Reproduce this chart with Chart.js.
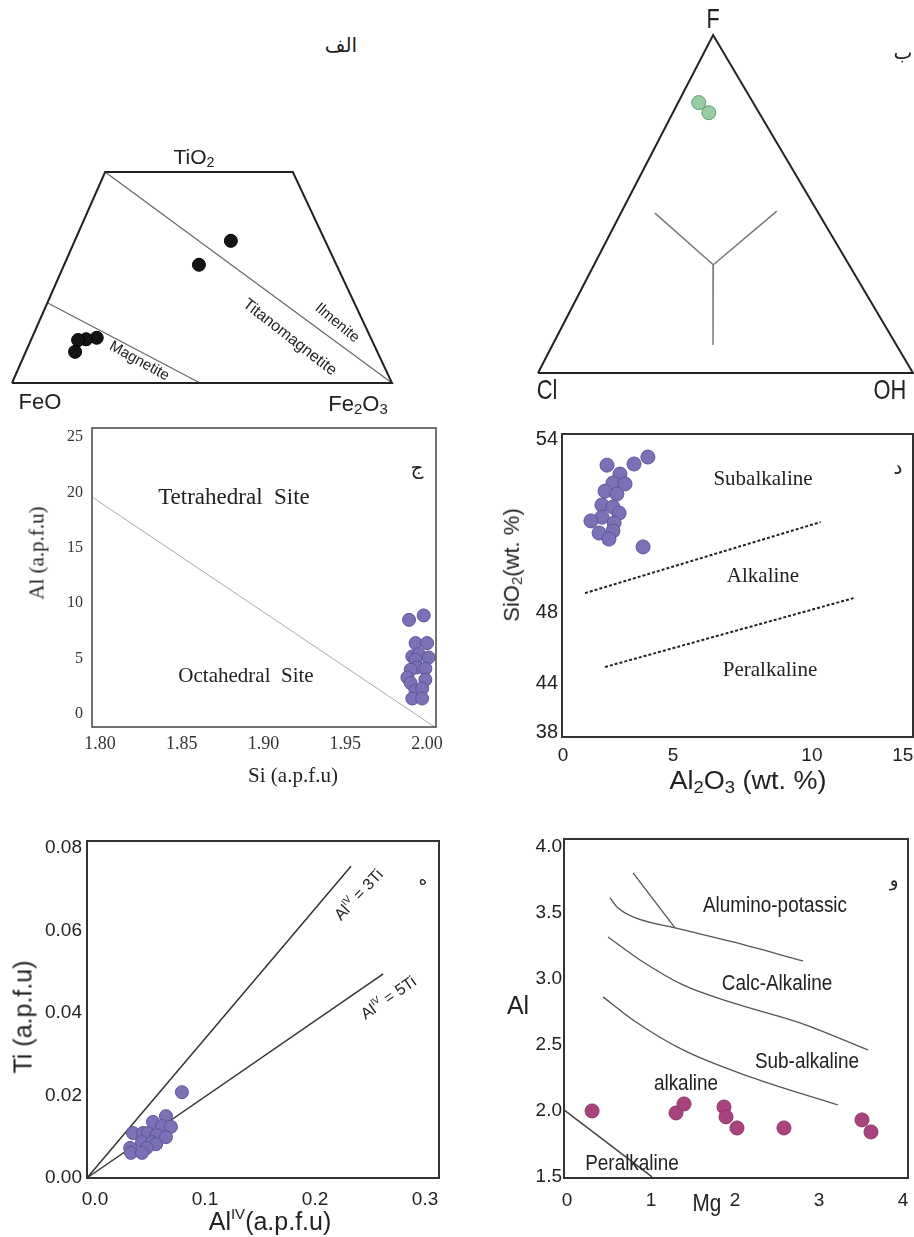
<!DOCTYPE html>
<html>
<head>
<meta charset="utf-8">
<script src="https://cdn.jsdelivr.net/npm/chart.js@4/dist/chart.umd.min.js"></script>
<style>
  body { margin: 0; background: #fff; }
  #page { position: relative; width: 914px; height: 1237px; overflow: hidden; background: #fff; }
  #page canvas { position: absolute; }
  .note { position: absolute; white-space: pre; line-height: 1; color: #222; z-index: 5; }
  .note sub { font-size: 0.68em; vertical-align: -0.22em; }
  .note sup { font-size: 0.6em; vertical-align: 0.75em; }
</style>
</head>
<body>
<div id="page">
  <canvas id="oxide"></canvas>
  <canvas id="halogen"></canvas>
  <canvas id="site"></canvas>
  <canvas id="silica"></canvas>
  <canvas id="titan"></canvas>
  <canvas id="mgal"></canvas>
</div>
<script>
// ---- الف : FeO - TiO2 - Fe2O3 (diagram units, base FeO->Fe2O3 = 0..100)
const oxideOutline = [{x:0,y:0},{x:24.5,y:55.5},{x:73.9,y:55.5},{x:100,y:0},{x:0,y:0}];
const ilmeniteJoin = [{x:24.5,y:55.5},{x:100,y:0}];
const magnetiteJoin = [{x:9.3,y:21.1},{x:49.5,y:0}];
const oxideX = [57.6, 49.2, 22.3, 19.5, 17.4, 16.6];
const oxideY = [37.4, 31.1, 11.9, 11.5, 11.3, 8.2];

// ---- ب : F - Cl - OH (mole fractions)
const halogenF  = [0.80, 0.77];
const halogenCl = [0.145, 0.134];
const halogenOH = [0.055, 0.096];
const triCorners = [{F:0,Cl:1,OH:0},{F:0,Cl:0,OH:1},{F:1,Cl:0,OH:0},{F:0,Cl:1,OH:0}];
const armUpper = [{F:0.473,Cl:0.436,OH:0.091},{F:0.32,Cl:0.362,OH:0.318},{F:0.479,Cl:0.108,OH:0.413}];
const armLower = [{F:0.32,Cl:0.362,OH:0.318},{F:0.083,Cl:0.489,OH:0.428}];

// ---- ج : Si vs Al (a.p.f.u)
const siApfu = [1.989,1.998,1.993,2.000,1.991,1.995,2.001,1.993,1.994,1.990,1.999,1.988,1.990,1.999,1.993,1.997,1.991,1.997];
const alApfu = [8.5,8.9,6.4,6.4,5.2,5.4,5.1,4.9,4.2,4.0,4.1,3.3,2.8,3.1,2.1,2.3,1.4,1.4];
const siteBoundary = [{x:1.795,y:19.6},{x:2.005,y:-1.2}];
const siteTicksX = [1.80, 1.85, 1.90, 1.95, 2.00];
const siteTicksY = [0, 5, 10, 15, 20, 25];

// ---- د : Al2O3 vs SiO2 (wt. %)
const al2o3 = [3.86,2.00,3.23,2.59,2.27,2.82,1.91,2.45,1.77,2.27,2.55,1.77,1.27,2.32,2.27,1.64,2.09,3.64];
const sio2  = [53.38,53.10,53.14,52.79,52.48,52.45,52.20,52.10,51.72,51.65,51.44,51.30,51.17,51.10,50.82,50.75,50.54,50.27];
const subalkBoundary = [{x:1.0,y:48.67},{x:10.48,y:51.13}];
const peralkBoundary = [{x:1.91,y:44.95},{x:12.31,y:48.5}];
const silicaTicksX = [0, 5, 10, 15];
const silicaTicksY = [54, 48, 44, 38];

// ---- ه : AlIV vs Ti
const alIV = [0.079,0.0645,0.0527,0.061,0.069,0.0345,0.0436,0.048,0.056,0.0645,0.0427,0.0518,0.0555,0.032,0.047,0.0327,0.0427];
const tiH  = [0.0208,0.0150,0.0136,0.0126,0.0124,0.0109,0.0109,0.0109,0.0104,0.0099,0.0087,0.0087,0.0082,0.0073,0.0073,0.0061,0.0061];
const line3Ti = [{x:-0.0073,y:0},{x:0.2327,y:0.0756}];
const line5Ti = [{x:-0.0073,y:0},{x:0.262,y:0.0495}];
const titanTicksX = [0, 0.1, 0.2, 0.3];
const titanTicksY = [0, 0.02, 0.04, 0.06, 0.08];

// ---- و : Mg vs Al
const mgV = [0.298,1.298,1.393,1.869,1.893,2.024,2.583,3.512,3.619];
const alV = [2.000,1.985,2.053,2.030,1.955,1.871,1.871,1.932,1.841];
const aluminoTick = [{x:0.786,y:3.803},{x:1.286,y:3.386}];
const aluminoCurve = [{x:0.512,y:3.614},{x:0.595,y:3.545},{x:0.786,y:3.470},{x:1.286,y:3.386},{x:1.976,y:3.280},{x:2.81,y:3.136}];
const calcCurve = [{x:0.488,y:3.318},{x:0.869,y:3.144},{x:1.381,y:2.955},{x:1.976,y:2.818},{x:2.774,y:2.667},{x:3.583,y:2.462}];
const subCurve = [{x:0.429,y:2.864},{x:0.786,y:2.689},{x:1.381,y:2.462},{x:2.179,y:2.258},{x:3.226,y:2.045}];
const peralkLine = [{x:-0.036,y:2.008},{x:1.012,y:1.5}];
const mgTicksX = [0, 1, 2, 3, 4];
const mgTicksY = [1.5, 2.0, 2.5, 3.0, 3.5, 4.0];

const SANS = '"Liberation Sans", Arial, sans-serif';
const SERIF = '"Liberation Serif", "Times New Roman", serif';
const ARAB = '"DejaVu Sans", sans-serif';

// scale whose value->pixel mapping is piecewise linear (the SiO2 / Al2O3 axes are not evenly spaced)
class PiecewiseScale extends Chart.LinearScale {
  getPixelForValue(value) {
    const b = this.options.breaks;
    let i = 1;
    while (i < b.length - 1 && value > b[i][0]) i++;
    const v0 = b[i-1][0], d0 = b[i-1][1], v1 = b[i][0], d1 = b[i][1];
    return this.getPixelForDecimal(d0 + (value - v0) / (v1 - v0) * (d1 - d0));
  }
  getValueForPixel(pixel) {
    const b = this.options.breaks, dec = this.getDecimalForPixel(pixel);
    let i = 1;
    while (i < b.length - 1 && dec > b[i][1]) i++;
    const v0 = b[i-1][0], d0 = b[i-1][1], v1 = b[i][0], d1 = b[i][1];
    return v0 + (dec - d0) / (d1 - d0) * (v1 - v0);
  }
}
PiecewiseScale.id = 'piecewise';
PiecewiseScale.defaults = Chart.LinearScale.defaults;
Chart.register(PiecewiseScale);

const boxFrame = {
  id: 'boxFrame',
  afterDatasetsDraw(chart, args, opts) {
    const a = chart.chartArea, ctx = chart.ctx;
    ctx.save();
    ctx.strokeStyle = opts.color;
    ctx.lineWidth = opts.width;
    ctx.strokeRect(a.left, a.top, a.right - a.left, a.bottom - a.top);
    ctx.restore();
  }
};

const pairs = (xs, ys) => xs.map((x, i) => ({x, y: ys[i]}));
const apexX = 0.467; // F apex sits slightly left of the Cl-OH midpoint
const tern = c => ({x: c.OH + apexX * c.F, y: c.F});

const line = (data, color, width, extra) => Object.assign({data, showLine: true, pointRadius: 0, pointHoverRadius: 0,
  borderColor: color, borderWidth: width, fill: false, clip: false}, extra || {});
const dots = (data, fill, stroke, r) => ({data, showLine: false, pointRadius: r, pointHoverRadius: r,
  backgroundColor: fill, borderColor: stroke, borderWidth: 1, clip: false});

function axis(type, min, max, ticks, fmt, o) {
  const s = {
    type, min, max,
    grid: {display: false, drawTicks: false},
    border: {display: false},
    ticks: {padding: o.pad, color: o.color || '#222', font: {family: o.font, size: o.size},
      autoSkip: false, maxRotation: 0, minRotation: 0, callback: v => fmt(v)},
    afterBuildTicks: sc => { sc.ticks = ticks.map(v => ({value: v})); },
    afterFit: sc => {
      if (o.y) sc.width = o.fit; else sc.height = o.fit;
      sc.paddingLeft = sc.paddingRight = sc.paddingTop = sc.paddingBottom = 0;
    }
  };
  if (o.breaks) s.breaks = o.breaks;
  return s;
}
const hidden = (min, max) => ({type: 'linear', display: false, min, max});

function makeChart(id, box, scales, datasets, frame) {
  const cv = document.getElementById(id);
  cv.width = box.w; cv.height = box.h;
  Object.assign(cv.style, {left: box.x + 'px', top: box.y + 'px', width: box.w + 'px', height: box.h + 'px'});
  return new Chart(cv, {
    type: 'scatter',
    data: {datasets},
    options: {
      responsive: false, animation: false, devicePixelRatio: 1,
      layout: {padding: box.pad, autoPadding: false},
      plugins: {legend: {display: false}, tooltip: {enabled: false}, boxFrame: frame || false},
      scales
    },
    plugins: [boxFrame]
  });
}

// الف
makeChart('oxide', {x: 0, y: 150, w: 420, h: 250, pad: {left: 12, right: 28, top: 22, bottom: 17}},
  {x: hidden(0, 100), y: hidden(0, 55.5)},
  [dots(pairs(oxideX, oxideY), '#141414', '#000', 6.5),
   line(oxideOutline, '#222', 2),
   line(ilmeniteJoin, '#666', 1.2),
   line(magnetiteJoin, '#666', 1.2)]);

// ب
makeChart('halogen', {x: 520, y: 25, w: 394, h: 360, pad: {left: 18, right: 1, top: 10, bottom: 12}},
  {x: hidden(0, 1), y: hidden(0, 1)},
  [dots(halogenF.map((f, i) => tern({F: f, Cl: halogenCl[i], OH: halogenOH[i]})), '#98cda3', '#5f9a6e', 7),
   line(triCorners.map(tern), '#222', 2),
   line(armUpper.map(tern), '#7a7a7a', 1.5),
   line(armLower.map(tern), '#7a7a7a', 1.5)]);

// ج
makeChart('site', {x: 0, y: 418, w: 460, h: 372, pad: {left: 0, right: 24, top: 10, bottom: 0}},
  {x: axis('linear', 1.7951, 2.0055, siteTicksX, v => v.toFixed(2), {pad: 6, font: SERIF, size: 18, color: '#333', fit: 63}),
   y: axis('linear', -1.17, 25.81, siteTicksY, v => String(v), {pad: 9, font: SERIF, size: 16, color: '#333', fit: 92, y: true})},
  [dots(pairs(siApfu, alApfu), '#7a71b6', '#5d5597', 6.5),
   line(siteBoundary, '#aaa', 1)],
  {color: '#444', width: 1.5});

// د
makeChart('silica', {x: 520, y: 424, w: 394, h: 366, pad: {left: 0, right: 1, top: 10, bottom: 0}},
  {x: axis('piecewise', -0.05, 15.5, silicaTicksX, v => String(v), {pad: 7, font: SANS, size: 19, fit: 53,
      breaks: [[-0.05, 0], [0, 0.003], [5, 0.316], [10, 0.712], [15, 0.971], [15.5, 1]]}),
   y: axis('piecewise', 37.4, 54.17, silicaTicksY, v => String(v), {pad: 4, font: SANS, size: 20, fit: 42, y: true,
      breaks: [[37.4, 0], [38, 0.0165], [44, 0.175], [48, 0.411], [54, 0.983], [54.17, 1]]})},
  [dots(pairs(al2o3, sio2), '#7a71b6', '#5d5597', 7),
   line(subalkBoundary, '#222', 2, {borderDash: [3, 2]}),
   line(peralkBoundary, '#222', 2, {borderDash: [3, 2]})],
  {color: '#333', width: 2});

// ه
makeChart('titan', {x: 0, y: 830, w: 460, h: 400, pad: {left: 0, right: 21, top: 11, bottom: 0}},
  {x: axis('linear', -0.00727, 0.3127, titanTicksX, v => v.toFixed(1), {pad: 10, font: SANS, size: 19, fit: 52}),
   y: axis('linear', 0, 0.0817, titanTicksY, v => v.toFixed(2), {pad: 5, font: SANS, size: 19, fit: 87, y: true})},
  [dots(pairs(alIV, tiH), '#7a71b6', '#5d5597', 6.5),
   line(line3Ti, '#333', 1.5),
   line(line5Ti, '#333', 1.5)],
  {color: '#333', width: 2});

// و
makeChart('mgal', {x: 520, y: 830, w: 394, h: 400, pad: {left: 0, right: 6, top: 9, bottom: 0}},
  {x: axis('linear', -0.036, 4.06, mgTicksX, v => String(v), {pad: 11, font: SANS, size: 19, fit: 52}),
   y: axis('linear', 1.492, 4.06, mgTicksY, v => v.toFixed(1), {pad: 2, font: SANS, size: 19, fit: 44, y: true})},
  [dots(pairs(mgV, alV), '#a8437e', '#8a3366', 7),
   line(aluminoTick, '#555', 1.3),
   line(aluminoCurve, '#555', 1.3, {cubicInterpolationMode: 'monotone'}),
   line(calcCurve, '#555', 1.3, {cubicInterpolationMode: 'monotone'}),
   line(subCurve, '#555', 1.3, {cubicInterpolationMode: 'monotone'}),
   line(peralkLine, '#444', 1.5)],
  {color: '#333', width: 2});

// text on the figure: [html, x, y, size, font, rotation, horizontal scale]
const notes = [
  ['الف', 341, 45, 20, ARAB],
  ['TiO<sub>2</sub>', 194, 158, 21, SANS],
  ['FeO', 40, 402, 22, SANS],
  ['Fe<sub>2</sub>O<sub>3</sub>', 358, 405, 22, SANS],
  ['Ilmenite', 338, 322, 15, SANS, 40],
  ['Titanomagnetite', 290, 337, 16, SANS, 38],
  ['Magnetite', 140, 360, 15, SANS, 29],

  ['ب', 903, 52, 20, ARAB],
  ['F', 713, 19, 27, SANS, 0, 0.8],
  ['Cl', 547, 390, 28, SANS, 0, 0.78],
  ['OH', 890, 390, 28, SANS, 0, 0.78],

  ['ج', 417, 467, 20, ARAB],
  ['Tetrahedral  Site', 234, 496, 23, SERIF],
  ['Octahedral  Site', 246, 675, 21, SERIF],
  ['Al (a.p.f.u)', 37, 553, 21, SERIF, -90],
  ['Si (a.p.f.u)', 293, 775, 21, SERIF],

  ['د', 898, 467, 20, ARAB],
  ['Subalkaline', 763, 478, 21, SERIF],
  ['Alkaline', 763, 575, 21, SERIF],
  ['Peralkaline', 770, 669, 21, SERIF],
  ['SiO<sub>2</sub>(wt. %)', 513, 565, 22, SANS, -90],
  ['Al<sub>2</sub>O<sub>3</sub> (wt. %)', 748, 782, 25, SANS, 0, 1.08],

  ['ه', 423, 880, 16, ARAB],
  ['Al<sup>IV</sup> = 3Ti', 358, 894, 16, SANS, -47],
  ['Al<sup>IV</sup> = 5Ti', 388, 997, 16, SANS, -35],
  ['Ti (a.p.f.u)', 23, 1017, 25, SANS, -90],
  ['Al<sup>IV</sup>(a.p.f.u)', 270, 1220, 25, SANS],

  ['و', 894, 880, 18, ARAB],
  ['Alumino-potassic', 775, 905, 22, SANS, 0, 0.86],
  ['Calc-Alkaline', 777, 983, 22, SANS, 0, 0.86],
  ['Sub-alkaline', 807, 1061, 22, SANS, 0, 0.86],
  ['alkaline', 686, 1083, 22, SANS, 0, 0.86],
  ['Peralkaline', 632, 1163, 22, SANS, 0, 0.86],
  ['Al', 518, 1005, 25, SANS],
  ['Mg', 707, 1203, 23, SANS, 0, 0.9]
];

const page = document.getElementById('page');
notes.forEach(([html, x, y, size, font, rot, sx]) => {
  const d = document.createElement('div');
  d.className = 'note';
  d.innerHTML = html;
  d.style.left = x + 'px';
  d.style.top = y + 'px';
  d.style.fontSize = size + 'px';
  d.style.fontFamily = font;
  d.style.transform = `translate(-50%, -50%) rotate(${rot || 0}deg) scaleX(${sx || 1})`;
  page.appendChild(d);
});
</script>
</body>
</html>
